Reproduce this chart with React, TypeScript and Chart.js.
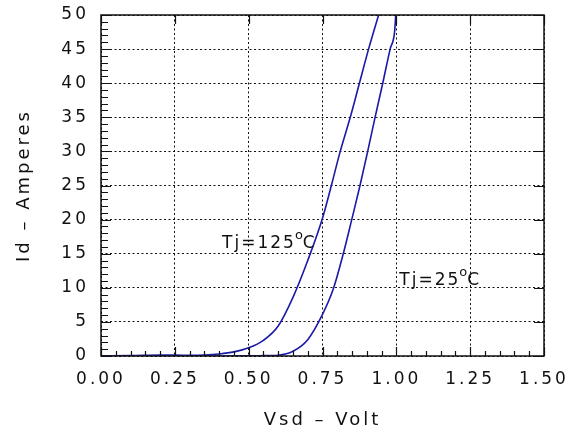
import React, { useEffect, useRef } from "react";
import { Chart, registerables } from "chart.js";

Chart.register(...registerables);

const xTicks = [0, 0.25, 0.5, 0.75, 1.0, 1.25, 1.5];
const yTicks = [0, 5, 10, 15, 20, 25, 30, 35, 40, 45, 50];

const vsd125 = [0, 0.1, 0.2, 0.3, 0.35, 0.4, 0.45, 0.5, 0.55, 0.6, 0.65, 0.7, 0.75, 0.78, 0.81, 0.844, 0.875, 0.906, 0.94];
const id125 = [0, 0.05, 0.15, 0.1, 0.15, 0.3, 0.6, 1.2, 2.3, 4.4, 8.6, 14.0, 20.2, 25, 30, 35, 40, 45, 50];

const vsd25 = [0, 0.2, 0.4, 0.5, 0.55, 0.6, 0.65, 0.7, 0.75, 0.787, 0.821, 0.849, 0.877, 0.903, 0.928, 0.954, 0.979, 0.994, 0.998];
const id25 = [0, 0, 0, 0.02, 0.05, 0.12, 0.7, 2.4, 6.1, 9.9, 15.1, 20, 25, 30, 35, 40, 45, 47.5, 50];

const labels = [
  { text: "Tj=125", unit: "C", x: 0.41, y: 15.8 },
  { text: "Tj=25", unit: "C", x: 1.01, y: 10.4 },
];

const LINE = "#1a1aa8";
const FONT = "'DejaVu Sans', sans-serif";

const spacingPlugin = {
  id: "spacing",
  beforeLayout(chart: any) {
    chart.ctx.letterSpacing = "3px";
  },
  beforeDraw(chart: any) {
    chart.ctx.letterSpacing = "3px";
  },
};

const framePlugin = {
  id: "frame",
  afterDatasetsDraw(chart: any) {
    const { ctx, chartArea: a, scales } = chart;
    const xs = scales.x;
    const ys = scales.y;
    ctx.save();
    ctx.strokeStyle = "#111";
    ctx.lineWidth = 1.5;
    ctx.strokeRect(a.left, a.top, a.right - a.left, a.bottom - a.top);
    ctx.lineWidth = 1.2;
    ctx.beginPath();
    for (let i = 0; i <= 30; i++) {
      const v = i * 0.05;
      const px = Math.round(xs.getPixelForValue(v)) + 0.5;
      const major = i % 5 === 0;
      const len = major ? 9 : 5;
      ctx.moveTo(px, a.bottom);
      ctx.lineTo(px, a.bottom - len);
      if (major) {
        ctx.moveTo(px, a.top);
        ctx.lineTo(px, a.top + len);
      }
    }
    for (let i = 0; i <= 50; i++) {
      const py = Math.round(ys.getPixelForValue(i)) + 0.5;
      const major = i % 5 === 0;
      const len = major ? 10 : 7;
      ctx.moveTo(a.left, py);
      ctx.lineTo(a.left + len, py);
      if (major) {
        ctx.moveTo(a.right, py);
        ctx.lineTo(a.right - len, py);
      }
    }
    ctx.stroke();

    ctx.fillStyle = "#111";
    ctx.letterSpacing = "2px";
    ctx.textBaseline = "alphabetic";
    ctx.textAlign = "left";
    for (const l of labels) {
      let x = xs.getPixelForValue(l.x);
      const y = ys.getPixelForValue(l.y);
      ctx.font = `17px ${FONT}`;
      ctx.fillText(l.text, x, y);
      x += ctx.measureText(l.text).width - 1;
      ctx.font = `13px ${FONT}`;
      ctx.fillText("o", x, y - 9);
      x += ctx.measureText("o").width - 2;
      ctx.font = `17px ${FONT}`;
      ctx.fillText(l.unit, x, y);
    }
    ctx.restore();
  },
};

export default function App() {
  const ref = useRef<HTMLCanvasElement | null>(null);
  useEffect(() => {
    document.body.style.margin = "0";
    const canvas = ref.current!;
    const chart = new Chart(canvas, {
      type: "line",
      data: {
        datasets: [
          {
            label: "Tj=125°C",
            data: vsd125.map((v, i) => ({ x: v, y: id125[i] })),
            borderColor: LINE,
            borderWidth: 1.6,
            pointRadius: 0,
            cubicInterpolationMode: "monotone",
            fill: false,
          },
          {
            label: "Tj=25°C",
            data: vsd25.map((v, i) => ({ x: v, y: id25[i] })),
            borderColor: LINE,
            borderWidth: 1.6,
            pointRadius: 0,
            cubicInterpolationMode: "monotone",
            fill: false,
          },
        ],
      },
      options: {
        responsive: false,
        animation: false,
        layout: { padding: { top: 15, right: 38, left: 0, bottom: 0 } },
        plugins: { legend: { display: false }, tooltip: { enabled: false } },
        scales: {
          x: {
            type: "linear",
            min: 0,
            max: 1.5,
            afterBuildTicks: (s: any) => {
              s.ticks = xTicks.map((v) => ({ value: v }));
            },
            afterFit: (s: any) => {
              s.height = 79;
              s.paddingLeft = 0;
              s.paddingRight = 0;
            },
            ticks: {
              color: "#111",
              font: { family: FONT, size: 17 },
              padding: 13,
              maxRotation: 0,
              autoSkip: false,
              callback: (v: any) => Number(v).toFixed(2),
            },
            grid: { color: "#111", lineWidth: 1, drawTicks: false },
            border: { display: false, dash: [2, 2.5] },
            title: {
              display: true,
              text: "Vsd – Volt",
              color: "#111",
              font: { family: FONT, size: 18 },
              padding: { top: 20 },
            },
          },
          y: {
            type: "linear",
            min: 0,
            max: 50,
            afterBuildTicks: (s: any) => {
              s.ticks = yTicks.map((v) => ({ value: v }));
            },
            afterFit: (s: any) => {
              s.width = 101;
              s.paddingTop = 0;
              s.paddingBottom = 0;
            },
            ticks: {
              color: "#111",
              font: { family: FONT, size: 17 },
              padding: 12,
              autoSkip: false,
              callback: (v: any) => String(v),
            },
            grid: { color: "#111", lineWidth: 1, drawTicks: false },
            border: { display: false, dash: [2, 2.5] },
            title: {
              display: true,
              text: "Id – Amperes",
              color: "#111",
              font: { family: FONT, size: 18 },
              padding: { top: 14 },
            },
          },
        },
      },
      plugins: [spacingPlugin, framePlugin],
    } as any);
    return () => chart.destroy();
  }, []);
  return (
    <div style={{ width: 582, height: 435, background: "#fff" }}>
      <canvas ref={ref} width={582} height={435} />
    </div>
  );
}
